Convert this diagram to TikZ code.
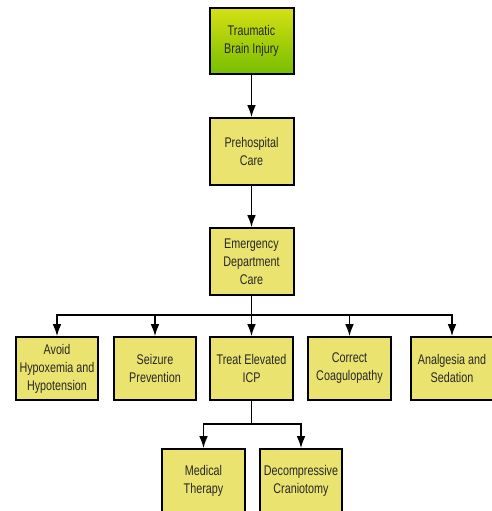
\documentclass[tikz,border=0pt]{standalone}
\usepackage{fontspec}
\setmainfont[FakeStretch=0.77]{Liberation Sans}
\usetikzlibrary{arrows.meta}
\definecolor{boxfill}{RGB}{234,227,112}
\definecolor{boxtext}{RGB}{40,40,35}
\definecolor{tbitop}{RGB}{214,224,20}
\definecolor{tbibottom}{RGB}{118,190,0}
\tikzset{
  box/.style={draw=black, line width=1.5pt, fill=boxfill, text=boxtext, align=center,
    minimum width=62pt, minimum height=47pt, inner sep=1pt,
    font=\fontsize{10.5pt}{13.5pt}\selectfont},
  tallbox/.style={box, minimum width=63pt, minimum height=50pt},
  arr/.style={line width=1.2pt, -{Latex[length=9pt,width=6.5pt]}},
  link/.style={line width=1.2pt}
}

\begin{document}
\begin{tikzpicture}[x=0.75pt, y=-0.75pt]
  \useasboundingbox (0,0) rectangle (492,511);
  \clip (0,0) rectangle (492,511);
  \node [tallbox, shading=axis, top color=tbitop, bottom color=tbibottom] (tbi) at (251.5,41) {Traumatic\\Brain Injury};
  \node [tallbox] (prehosp) at (251.5,151.5) {Prehospital\\Care};
  \node [tallbox] (edcare) at (251.5,261.5) {Emergency\\Department\\Care};
  \draw [arr] (tbi) -- (prehosp);
  \draw [arr] (prehosp) -- (edcare);
  % row of treatment goals
  \node [box] (avoid) at (57,368.5) {Avoid\\Hypoxemia and\\Hypotension};
  \node [box] (seizure) at (155,368.5) {Seizure\\Prevention};
  \node [box] (icp) at (251.5,368.5) {Treat Elevated\\ICP};
  \node [box] (coag) at (349.5,368.5) {Correct\\Coagulopathy};
  \node [box] (analg) at (452,368.5) {Analgesia and\\Sedation};
  \coordinate (split) at (251.5,315);
  \draw [link] (edcare) -- (split);
  \foreach \n in {avoid,seizure,icp,coag,analg} {
    \draw [arr] (split) -| (\n.north);
  }
  % ICP branches
  \node [box] (medical) at (203.5,480.5) {Medical\\Therapy};
  \node [box] (decomp) at (301,480.5) {Decompressive\\Craniotomy};
  \coordinate (icpsplit) at (251.5,424);
  \draw [link] (icp) -- (icpsplit);
  \foreach \n in {medical,decomp} {
    \draw [arr] (icpsplit) -| (\n.north);
  }
\end{tikzpicture}
\end{document}
